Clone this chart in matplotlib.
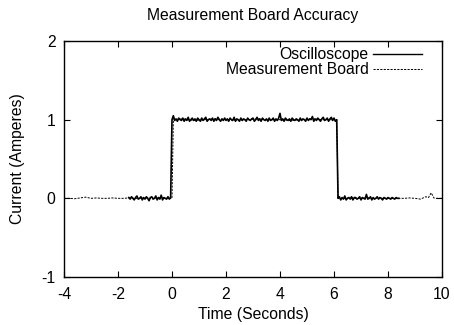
import matplotlib
matplotlib.use("Agg")
import matplotlib.pyplot as plt
import numpy as np

plt.rcParams['font.family'] = ['Liberation Sans', 'DejaVu Sans']
plt.rcParams['axes.unicode_minus'] = False

# ---- data ----
# oscilloscope sampled every 0.05 s from -1.6 s to 8.4 s
osc_start, osc_step = -1.6, 0.05
osc_low_before = [0.01, -0.01, 0.02, 0.00, -0.02, 0.01, 0.03, -0.01, 0.00, 0.02,
                  -0.02, 0.01, -0.01, 0.02, 0.00, -0.03, 0.01, 0.02, -0.01, 0.00,
                  0.03, -0.02, 0.01, -0.01, 0.04, -0.02, 0.01, 0.00, -0.01, 0.02,
                  -0.01, 0.01]
osc_high = [1.00, 1.05, 0.99, 1.01, 0.98, 1.02, 1.00, 0.99, 1.02, 0.98,
            1.01, 0.99, 1.03, 0.98, 1.00, 1.02, 0.99, 1.01, 0.98, 1.02,
            1.00, 0.98, 1.02, 0.99, 1.01, 1.03, 0.98, 1.00, 1.01, 0.99,
            1.02, 0.98, 1.01, 0.99, 1.03, 1.00, 0.98, 1.01, 0.99, 1.02,
            0.99, 1.01, 0.98, 1.02, 1.00, 0.99, 1.03, 0.98, 1.01, 1.00,
            0.98, 1.02, 0.99, 1.01, 1.00, 0.98, 1.02, 1.00, 0.99, 1.01,
            1.02, 0.98, 1.00, 1.03, 0.99, 1.01, 0.98, 1.02, 1.00, 0.99,
            1.01, 0.98, 1.02, 0.99, 1.00, 1.02, 0.98, 1.01, 0.99, 1.02,
            1.08, 0.99, 1.01, 0.98, 1.02, 1.00, 0.99, 1.01, 0.98, 1.02,
            1.00, 0.99, 1.01, 1.00, 0.98, 1.02, 0.99, 1.01, 1.00, 0.98,
            1.02, 0.99, 1.01, 1.00, 1.04, 0.98, 1.01, 0.99, 1.02, 1.00,
            0.98, 1.01, 1.03, 0.99, 1.00, 1.02, 0.98, 1.01, 1.03, 0.99,
            1.02, 0.98, 1.00]
osc_low_after = [0.00, 0.02, -0.02, 0.01, -0.01, 0.03, -0.02, 0.00, 0.01, -0.01,
                 0.02, -0.02, 0.01, 0.01, -0.01, 0.00, 0.02, -0.02, 0.01, 0.00,
                 -0.01, 0.05, -0.01, 0.00, 0.02, -0.02, 0.01, -0.01, 0.00, 0.02,
                 -0.01, 0.01, 0.00, -0.02, 0.01, 0.00, -0.01, 0.01, 0.00, -0.01,
                 0.01, 0.00, -0.01, 0.01, 0.00, 0.00]
osc_current = osc_low_before + osc_high + osc_low_after
osc_time = np.round(osc_start + osc_step * np.arange(len(osc_current)), 2)

board_time = [-4.0, -3.8, -3.6, -3.4, -3.2, -3.0, -2.8, -2.6, -2.4, -2.2, -2.0,
              -1.8, -1.6, -1.4, -1.2, -1.0, -0.8, -0.6, -0.4, -0.2, 0.0,
              0.05, 0.4, 0.8, 1.2, 1.6, 2.0, 2.4, 2.8, 3.2, 3.6, 4.0, 4.4, 4.8, 5.2, 5.6, 6.0, 6.1,
              6.15, 6.4, 6.6, 6.8, 7.0, 7.2, 7.4, 7.6, 7.8, 8.0, 8.2, 8.4, 8.6, 8.8,
              9.0, 9.2, 9.4, 9.5, 9.6, 9.7, 9.8, 10.0]
board_current = [0.00, 0.00, -0.005, 0.005, 0.015, 0.00, 0.005, 0.00, 0.00, 0.005, 0.00,
                 0.00, 0.005, 0.00, 0.00, 0.005, 0.00, 0.00, 0.005, 0.00, 0.00,
                 1.00, 1.01, 0.99, 1.00, 1.01, 1.00, 0.99, 1.00, 1.01, 1.00, 1.00, 0.99, 1.00, 1.01, 1.00, 1.00, 1.00,
                 0.00, 0.00, 0.01, 0.00, 0.00, 0.01, 0.00, 0.00, 0.00, 0.00, 0.00, 0.00, 0.00, 0.005,
                 0.00, -0.01, 0.02, 0.01, 0.07, 0.005, 0.00, 0.00]

x_ticks = [-4, -2, 0, 2, 4, 6, 8, 10]
y_ticks = [-1, 0, 1, 2]

# ---- figure ----
FS = 11.3
fig = plt.figure(figsize=(4.54, 3.25), dpi=100)
ax = fig.add_axes([64 / 454, 48 / 325, 378 / 454, 236 / 325])

ax.plot(osc_time, osc_current, color='black', lw=1.2, label='Oscilloscope', zorder=3)
ax.plot(board_time, board_current, color='black', lw=0.7, dashes=(2.2, 1.3),
        label='Measurement Board', zorder=2)

ax.set_xlim(-4, 10)
ax.set_ylim(-1, 2)
ax.set_xticks(x_ticks)
ax.set_yticks(y_ticks)
ax.tick_params(direction='in', length=4, width=0.8, top=True, right=True,
               labelsize=FS)
ax.tick_params(axis='x', pad=7)
ax.tick_params(axis='y', pad=6)
for s in ax.spines.values():
    s.set_linewidth(1.0)

ax.set_title('Measurement Board Accuracy', fontsize=FS, pad=15)
ax.set_xlabel('Time (Seconds)', fontsize=FS, labelpad=4)
ax.set_ylabel('Current (Amperes)', fontsize=FS, labelpad=12)

leg = ax.legend(loc='upper right', bbox_to_anchor=(0.963, 1.0), borderaxespad=0,
                frameon=False, markerfirst=False, fontsize=FS,
                handlelength=3.1, handletextpad=0.3, labelspacing=0.0)
leg.legend_handles[0].set_linewidth(1.0)
for col in leg._legend_handle_box.get_children():
    col.align = 'right'

fig.savefig('out.png', dpi=100)
